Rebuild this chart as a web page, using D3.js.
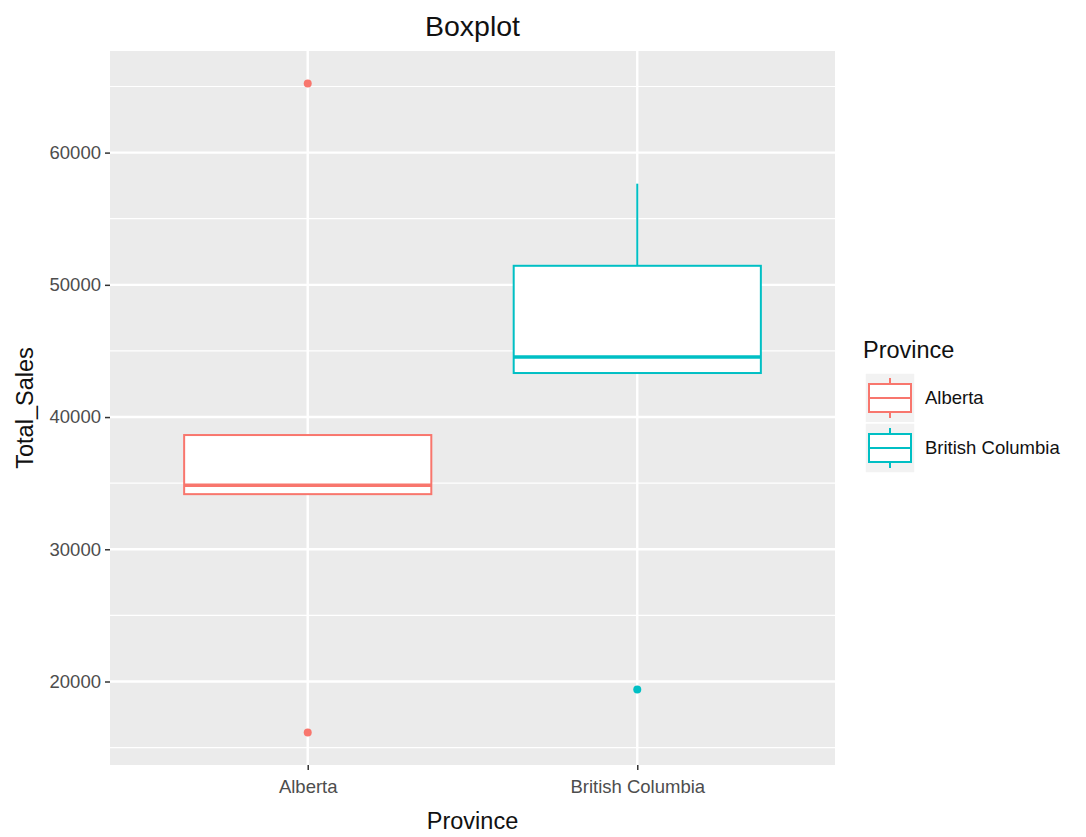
<!DOCTYPE html>
<html><head><meta charset="utf-8">
<script src="https://cdn.jsdelivr.net/npm/d3@7"></script>
<style>body{margin:0;background:#fff}text{font-family:"Liberation Sans",Arial,sans-serif}</style>
</head><body>
<svg id="c" width="1086" height="837"></svg>
<script>
const categories = ["Alberta", "British Columbia"];
const colors = ["#F8766D", "#00BFC4"];
const whiskerLow = [34170, 43330];
const q1 = [34170, 43330];
const median = [34850, 44550];
const q3 = [38640, 51440];
const whiskerHigh = [38640, 57650];
const outliers = [[16140, 65230], [19390]];
const yTicks = [20000, 30000, 40000, 50000, 60000];
const yMinor = [15000, 25000, 35000, 45000, 55000, 65000];

const svg = d3.select("#c");
const L = 110, R = 835, T = 51, B = 765;
const allVals = whiskerLow.concat(whiskerHigh, outliers.flat());
const lo = d3.min(allVals), hi = d3.max(allVals), pad = (hi - lo) * 0.05;
const y = d3.scaleLinear().domain([lo - pad, hi + pad]).range([B, T]);
const x = d3.scalePoint().domain(categories).range([L, R]).padding(0.6);
const bw = x.step() * 0.75;

svg.append("rect").attr("x", L).attr("y", T).attr("width", R - L).attr("height", B - T).attr("fill", "#EBEBEB");
svg.selectAll(".mi").data(yMinor).join("line").attr("x1", L).attr("x2", R)
  .attr("y1", d => y(d)).attr("y2", d => y(d)).attr("stroke", "#fff").attr("stroke-width", 1.2);
svg.selectAll(".ma").data(yTicks).join("line").attr("x1", L).attr("x2", R)
  .attr("y1", d => y(d)).attr("y2", d => y(d)).attr("stroke", "#fff").attr("stroke-width", 2.4);
svg.selectAll(".mx").data(categories).join("line").attr("y1", T).attr("y2", B)
  .attr("x1", d => x(d)).attr("x2", d => x(d)).attr("stroke", "#fff").attr("stroke-width", 2.4);

// boxes
categories.forEach((c, i) => {
  const g = svg.append("g");
  const cx = x(c), col = colors[i];
  g.append("line").attr("x1", cx).attr("x2", cx).attr("y1", y(q3[i])).attr("y2", y(whiskerHigh[i])).attr("stroke", col).attr("stroke-width", 2);
  g.append("line").attr("x1", cx).attr("x2", cx).attr("y1", y(q1[i])).attr("y2", y(whiskerLow[i])).attr("stroke", col).attr("stroke-width", 2);
  g.append("rect").attr("x", cx - bw / 2).attr("width", bw).attr("y", y(q3[i])).attr("height", y(q1[i]) - y(q3[i]))
    .attr("fill", "#fff").attr("stroke", col).attr("stroke-width", 2);
  g.append("line").attr("x1", cx - bw / 2).attr("x2", cx + bw / 2).attr("y1", y(median[i])).attr("y2", y(median[i])).attr("stroke", col).attr("stroke-width", 3.5);
  g.selectAll("circle").data(outliers[i]).join("circle").attr("cx", cx).attr("cy", d => y(d)).attr("r", 4).attr("fill", col);
});

// y axis
const yAxis = d3.axisLeft(y).tickValues(yTicks).tickSize(5).tickPadding(4).tickFormat(d3.format("d"));
const ga = svg.append("g").attr("transform", `translate(${L},0)`).call(yAxis);
ga.select(".domain").remove();
ga.selectAll("line").attr("stroke", "#333").attr("stroke-width", 1.5);
ga.selectAll("text").attr("fill", "#4d4d4d").attr("font-size", 18.5);

const xAxis = d3.axisBottom(x).tickSize(5).tickPadding(10);
const gx = svg.append("g").attr("transform", `translate(0,${B})`).call(xAxis);
gx.select(".domain").remove();
gx.selectAll("line").attr("stroke", "#333").attr("stroke-width", 1.5);
gx.selectAll("text").attr("fill", "#4d4d4d").attr("font-size", 18.5);

svg.append("text").attr("x", (L + R) / 2).attr("y", 36).attr("text-anchor", "middle").attr("font-size", 28.5).attr("fill", "#111").text("Boxplot");
svg.append("text").attr("x", (L + R) / 2).attr("y", 829).attr("text-anchor", "middle").attr("font-size", 23.5).attr("fill", "#111").text("Province");
svg.append("text").attr("transform", `translate(33,${(T + B) / 2}) rotate(-90)`).attr("text-anchor", "middle").attr("font-size", 23.5).attr("fill", "#111").text("Total_Sales");

// legend
const lg = svg.append("g");
lg.append("text").attr("x", 863).attr("y", 358).attr("font-size", 23.5).attr("fill", "#111").text("Province");
categories.forEach((c, i) => {
  const ky = 373 + i * 50, kx = 865, col = colors[i];
  lg.append("rect").attr("x", kx).attr("y", ky).attr("width", 50).attr("height", 50).attr("fill", "#F2F2F2").attr("stroke", "#fff").attr("stroke-width", 1.5);
  const cx = kx + 25;
  lg.append("line").attr("x1", cx).attr("x2", cx).attr("y1", ky + 5).attr("y2", ky + 45).attr("stroke", col).attr("stroke-width", 2);
  lg.append("rect").attr("x", kx + 4).attr("y", ky + 11).attr("width", 42).attr("height", 28).attr("fill", "#fff").attr("stroke", col).attr("stroke-width", 2);
  lg.append("line").attr("x1", kx + 4).attr("x2", kx + 46).attr("y1", ky + 25).attr("y2", ky + 25).attr("stroke", col).attr("stroke-width", 2);
  lg.append("text").attr("x", 925).attr("y", ky + 25).attr("dy", "0.35em").attr("font-size", 18.5).attr("fill", "#111").text(c);
});
</script>
</body></html>
